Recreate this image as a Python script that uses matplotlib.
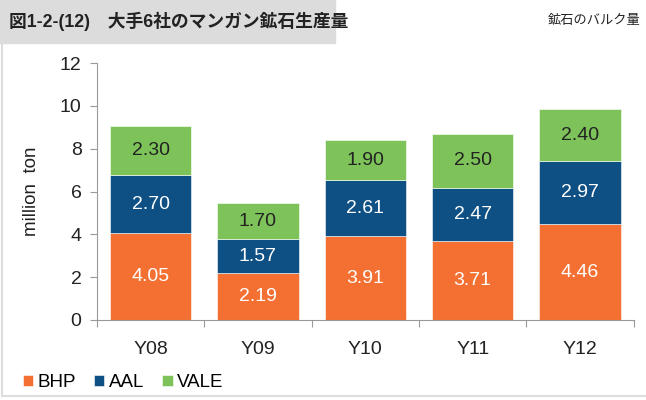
import numpy as np
import matplotlib
matplotlib.use("Agg")
from matplotlib import pyplot as plt
from matplotlib.patches import Rectangle
from matplotlib.lines import Line2D

plt.rcParams['font.family'] = ['Liberation Sans', 'Noto Sans CJK JP', 'DejaVu Sans']

# %% data
years = ["Y08", "Y09", "Y10", "Y11", "Y12"]
bhp = [4.05, 2.19, 3.91, 3.71, 4.46]
aal = [2.70, 1.57, 2.61, 2.47, 2.97]
vale = [2.30, 1.70, 1.90, 2.50, 2.40]
series_names = ["BHP", "AAL", "VALE"]
colors = ["#F37032", "#0E4F84", "#7DC35A"]
label_colors = ["white", "white", "#222222"]

# %% plot
fig = plt.figure(figsize=(6.46, 4.0), dpi=100)
ax = fig.add_axes([0.150, 0.2, 0.831, 0.6425])

x = np.arange(len(years))
bottom = np.zeros(len(years))
handles = []
for vals, name, c, lc in zip([bhp, aal, vale], series_names, colors, label_colors):
    vals = np.array(vals)
    bars = ax.bar(x, vals, 0.76, bottom=bottom, color=c, edgecolor="white",
                  linewidth=0.4, label=name)
    for xi, b, v in zip(x, bottom, vals):
        ax.text(xi, b + v / 2, f"{v:.2f}", ha="center", va="center",
                color=lc, fontsize=14)
    bottom += vals
    handles.append(bars)

ax.set_xlim(-0.5, len(years) - 0.5)
ax.set_ylim(0, 12)
ax.set_yticks(range(0, 13, 2))
ax.set_xticks(np.arange(-0.5, len(years), 1.0))
ax.set_xticklabels([])
ax.set_xticks(x, minor=True)
ax.set_xticklabels(years, minor=True, fontsize=14, color="#222222")
ax.tick_params(axis="x", which="minor", length=0, pad=15)
ax.tick_params(axis="x", which="major", length=5, color="#999999")
ax.tick_params(axis="y", length=5, color="#999999", labelsize=14,
               labelcolor="#222222", pad=6)
for s in ["top", "right"]:
    ax.spines[s].set_visible(False)
for s in ["left", "bottom"]:
    ax.spines[s].set_color("#999999")
ax.set_ylabel("million  ton", fontsize=13.5, color="#222222", labelpad=14)

# legend
leg = fig.legend(handles=handles, labels=series_names, loc="lower left",
                 bbox_to_anchor=(0.009, -0.02), ncol=3, frameon=False,
                 fontsize=13.5, handlelength=0.55, handleheight=0.55,
                 handletextpad=0.25, columnspacing=0.95)

# title box
fig.patches.append(Rectangle((0, 1 - 43 / 400), 335 / 646, 43 / 400,
                             transform=fig.transFigure, color="#DCDCDC",
                             zorder=0))
fig.text(9 / 646, 1 - 21 / 400, "図1-2-(12)　大手6社のマンガン鉱石生産量",
         fontsize=12.8, fontweight="bold", va="center", ha="left",
         color="#222222")
fig.text(640 / 646, 1 - 21 / 400, "鉱石のバルク量", fontsize=9.5,
         va="center", ha="right", color="#222222")

# light frame at left and bottom
fig.lines.append(Line2D([2 / 646, 2 / 646], [4 / 400, 1 - 43 / 400],
                        transform=fig.transFigure, color="#DDDDDD", lw=1.5))
fig.lines.append(Line2D([2 / 646, 1], [4 / 400, 4 / 400],
                        transform=fig.transFigure, color="#DDDDDD", lw=1.5))

fig.savefig("out.png", dpi=100)
